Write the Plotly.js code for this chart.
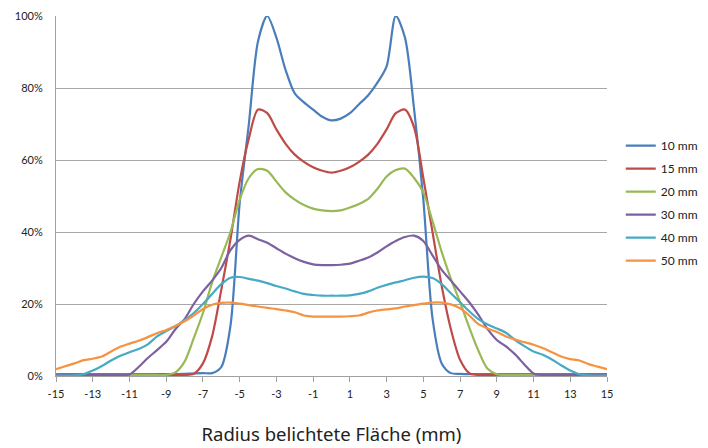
<!DOCTYPE html>
<html>
<head>
<meta charset="utf-8">
<script src="https://cdn.plot.ly/plotly-3.0.1.min.js"></script>
<style>html,body{margin:0;padding:0;background:#fff;}#chart{width:708px;height:448px;}</style>
</head>
<body>
<div id="chart"></div>
<script>
// Radius (mm), shared grid
const radius = [-15,-14.5,-14,-13.5,-13,-12.5,-12,-11.5,-11,-10.5,-10,-9.5,-9,-8.5,-8,-7.5,-7,-6.5,-6,-5.5,-5,-4.5,-4,-3.5,-3,-2.5,-2,-1.5,-1,-0.5,0,0.5,1,1.5,2,2.5,3,3.5,4,4.5,5,5.5,6,6.5,7,7.5,8,8.5,9,9.5,10,10.5,11,11.5,12,12.5,13,13.5,14,14.5,15];

const seriesNames = ["10 mm","15 mm","20 mm","30 mm","40 mm","50 mm"];

const v10 = [0.5,0.5,0.5,0.5,0.5,0.5,0.5,0.5,0.5,0.5,0.5,0.5,0.5,0.5,0.6,0.7,0.8,0.8,2.5,14,48,70,93,100,94,85,78.5,76,74,72,71,71.5,73,75.5,78,81.5,86,100,94,74,49,16,3.5,0.8,0.6,0.5,0.5,0.5,0.5,0.5,0.5,0.5,0.5,0.5,0.5,0.5,0.5,0.5,0.5,0.5,0.5];
const v15 = [0.3,0.3,0.3,0.3,0.3,0.3,0.3,0.3,0.3,0.3,0.3,0.3,0.3,0.3,0.3,0.6,3.5,11,24,38,54,66,74,73,68.5,64.5,61.5,59.5,58,57,56.5,57,58,59.5,61.5,64.5,68.5,73,74,69,55,40,25,13,4.5,0.8,0.3,0.3,0.3,0.3,0.3,0.3,0.3,0.3,0.3,0.3,0.3,0.3,0.3,0.3,0.3];
const v20 = [0.3,0.3,0.3,0.3,0.3,0.3,0.3,0.3,0.3,0.3,0.3,0.3,0.3,1,4,10.5,17.5,26,33,40,49,55,57.5,57,54,51,49,47.5,46.5,46,45.8,46,46.8,47.8,49.2,52,55.4,57.2,57.6,55,51,43,34.5,27,20.5,13.5,7,2,0.5,0.3,0.3,0.3,0.3,0.3,0.3,0.3,0.3,0.3,0.3,0.3,0.3];
const v30 = [0.3,0.3,0.3,0.3,0.3,0.3,0.3,0.3,0.4,2.5,5,7.2,9.5,13,15.8,20,23.5,26.5,30,35,37.8,39,38,37,35.5,34,32.7,31.7,31,30.8,30.8,30.9,31.2,32,32.9,34.3,36,37.5,38.6,39,37.5,33.5,29.5,26.5,23.5,20.5,17,13,10,8.2,6,3.2,0.7,0.3,0.3,0.3,0.3,0.3,0.3,0.3,0.3];
const v40 = [0.1,0.1,0.2,0.5,1.5,2.8,4.3,5.6,6.6,7.5,8.8,11,12.5,13.8,15.5,17.5,20,22.8,25.5,27.3,27.5,27,26.5,25.8,25,24.3,23.5,22.8,22.5,22.3,22.3,22.3,22.4,22.8,23.5,24.5,25.3,26,26.6,27.3,27.6,27.2,25.5,23,20.5,18,15.8,14.3,13.2,12,10,8.3,6.8,5.9,4.6,3,1.5,0.5,0.2,0.1,0.1];
const v50 = [1.9,2.7,3.5,4.4,4.8,5.4,6.8,8.1,9,9.8,10.8,11.9,12.8,13.9,15.2,16.8,18.6,19.8,20.3,20.4,20.1,19.7,19.3,18.9,18.6,18.2,17.7,16.8,16.5,16.5,16.5,16.5,16.6,16.8,17.6,18.2,18.5,18.8,19.3,19.7,20.1,20.4,20.4,19.9,18.8,16.8,14.4,13.2,12.2,11,10.1,9.4,8.7,7.8,6.6,5.4,4.7,4.3,3.3,2.6,1.9];

const xTicks = [-15,-13,-11,-9,-7,-5,-3,-1,1,3,5,7,9,11,13,15];
const yTicks = [0,20,40,60,80,100];
const xTitle = "Radius belichtete Fläche (mm)";

const values = [v10,v15,v20,v30,v40,v50];
const colors = ["#4A7EBB","#BE4B48","#98B954","#7D60A0","#46AAC5","#F69240"];

const traces = values.map((v,i)=>({
  x: radius, y: v, name: seriesNames[i], type:'scatter', mode:'lines',
  line:{color:colors[i], width:2.2, shape:'spline', smoothing:0.8},
  legendgroup:'g'+i
}));

const layout = {
  width:708, height:448,
  margin:{l:56, r:101, t:16, b:72, autoexpand:false},
  paper_bgcolor:'#fff', plot_bgcolor:'#fff',
  font:{family:'Lato, "Liberation Sans", sans-serif', size:11, color:'#222'},
  showlegend:true,
  legend:{x:1.025, xanchor:'left', y:0.48, yanchor:'middle', font:{size:12, family:'Lato, sans-serif', color:'#222'}, tracegroupgap:4, bgcolor:'rgba(0,0,0,0)'},
  xaxis:{
    range:[-15,15], tickvals:xTicks, ticktext:xTicks.map(String),
    showgrid:false, zeroline:false, showline:true, linecolor:'#A0A0A0', linewidth:1,
    ticks:'outside', ticklen:5, tickcolor:'#A0A0A0', ticklabelstandoff:3,
    tickfont:{size:11},
    title:{text:xTitle, font:{family:'"Noto Sans", sans-serif', size:18.5, color:'#222'}, standoff:28}
  },
  yaxis:{
    range:[0,100], tickvals:yTicks, ticktext:yTicks.map(v=>v+'%'),
    showgrid:true, gridcolor:'#A8A8A8', gridwidth:1, zeroline:false,
    showline:true, linecolor:'#A0A0A0', linewidth:1,
    ticks:'', ticklabelstandoff:10, tickfont:{size:11}
  }
};

Plotly.newPlot('chart', traces, layout, {staticPlot:true, displayModeBar:false});
</script>
</body>
</html>
